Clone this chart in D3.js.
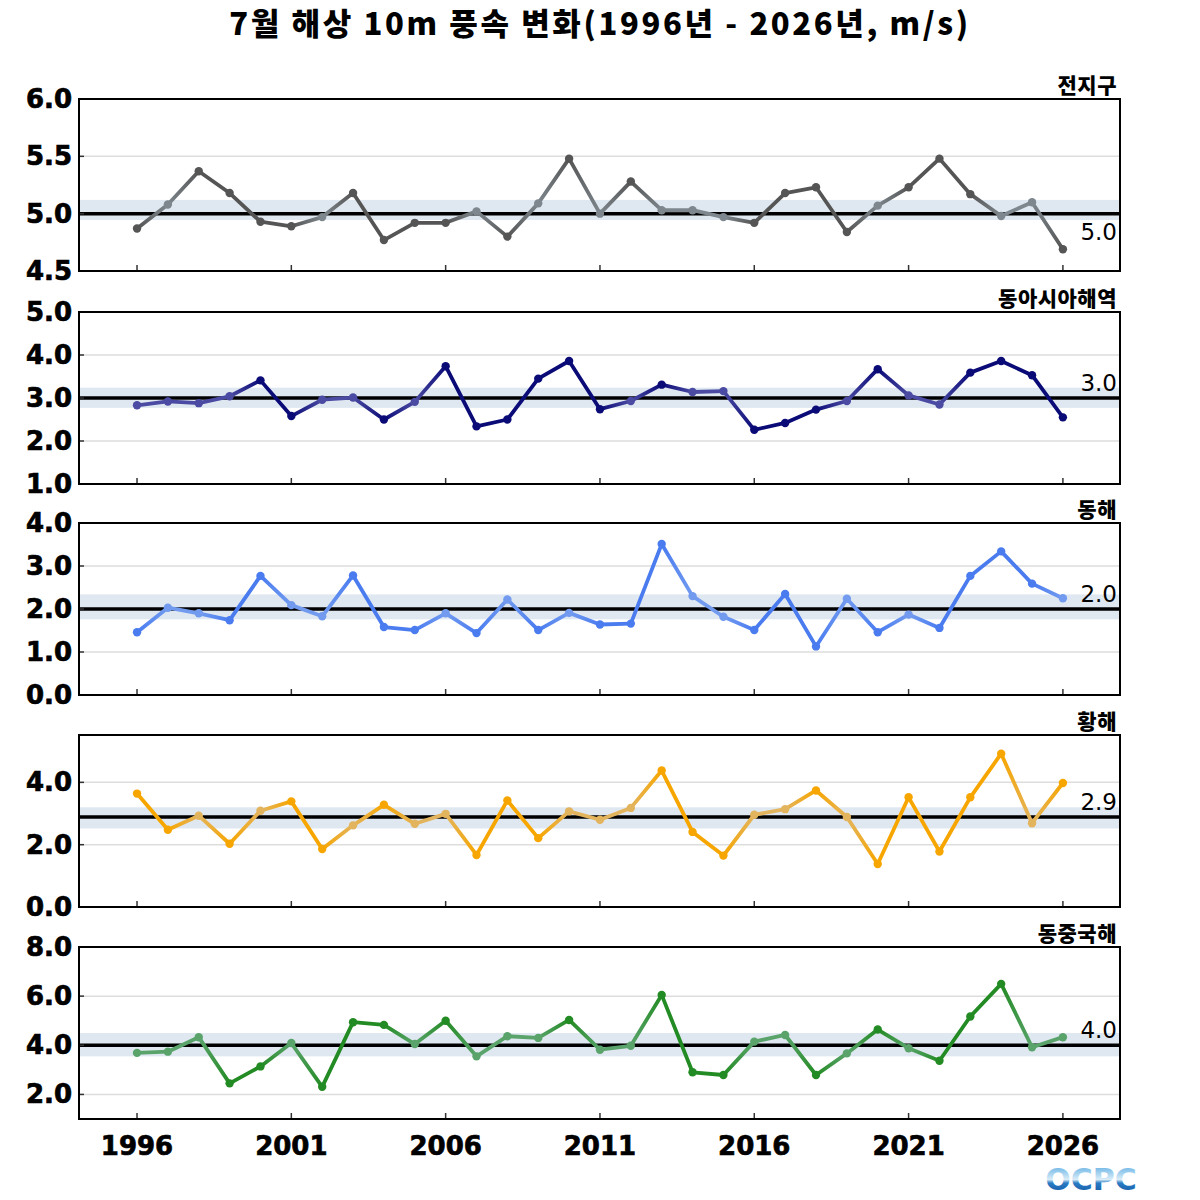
<!DOCTYPE html>
<html>
<head>
<meta charset="utf-8">
<script src="https://cdn.jsdelivr.net/npm/d3@7"></script>
<style>
  body { margin: 0; background: #fff; }
  svg { display: block; }
</style>
</head>
<body>
<div id="chart"></div>
<script>
// July sea 10m wind speed, five regions

var years = d3.range(1996, 2027);
var xTicks = [1996, 2001, 2006, 2011, 2016, 2021, 2026];

var regionNames = ["전지구", "동아시아해역", "동해", "황해", "동중국해"];

var globalVals = [4.87, 5.08, 5.37, 5.18, 4.93, 4.89, 4.97, 5.18, 4.77, 4.92, 4.92, 5.02, 4.80, 5.09, 5.48, 5.00,
                  5.28, 5.03, 5.03, 4.97, 4.92, 5.18, 5.23, 4.84, 5.07, 5.23, 5.48, 5.17, 4.98, 5.10, 4.69];
var eastAsiaVals = [2.83, 2.92, 2.88, 3.04, 3.41, 2.58, 2.96, 3.01, 2.50, 2.91, 3.74, 2.34, 2.50, 3.45, 3.86, 2.74,
                    2.93, 3.31, 3.14, 3.16, 2.26, 2.42, 2.73, 2.93, 3.67, 3.06, 2.85, 3.59, 3.86, 3.53, 2.55];
var eastSeaVals = [1.46, 2.03, 1.90, 1.74, 2.77, 2.09, 1.83, 2.78, 1.58, 1.51, 1.90, 1.44, 2.22, 1.51, 1.91, 1.64,
                   1.66, 3.51, 2.30, 1.82, 1.51, 2.35, 1.13, 2.24, 1.46, 1.87, 1.56, 2.77, 3.34, 2.59, 2.25];
var yellowSeaVals = [3.64, 2.48, 2.93, 2.03, 3.09, 3.39, 1.86, 2.62, 3.28, 2.67, 2.99, 1.67, 3.42, 2.21, 3.07, 2.80,
                     3.18, 4.38, 2.41, 1.65, 2.96, 3.14, 3.74, 2.89, 1.38, 3.52, 1.78, 3.52, 4.92, 2.69, 3.98];
var eastChinaVals = [3.69, 3.74, 4.33, 2.45, 3.14, 4.09, 2.31, 4.94, 4.83, 4.05, 5.00, 3.55, 4.37, 4.30, 5.03, 3.82,
                     3.98, 6.05, 2.90, 2.79, 4.15, 4.42, 2.79, 3.67, 4.64, 3.88, 3.37, 5.17, 6.50, 3.92, 4.33];

var normals = [5.0, 3.0, 2.0, 2.89, 4.0];
var normalLabels = ["5.0", "3.0", "2.0", "2.9", "4.0"];
var bandLow = [4.945, 2.77, 1.76, 2.52, 3.55];
var bandHigh = [5.12, 3.24, 2.34, 3.20, 4.50];

var yDomains = [[4.5, 6.0], [1.0, 5.0], [0.0, 4.0], [0.0, 5.52], [1.0, 8.0]];
var yTicks = [[4.5, 5.0, 5.5, 6.0], [1, 2, 3, 4, 5], [0, 1, 2, 3, 4], [0, 2, 4], [2, 4, 6, 8]];

var darkColors = ["#555555", "#0b0b78", "#4a7cf0", "#f7a600", "#238b23"];
var lightColors = ["#7e878d", "#4b4ba3", "#729bef", "#e3b45e", "#5aa46c"];

var series = [globalVals, eastAsiaVals, eastSeaVals, yellowSeaVals, eastChinaVals];

var W = 1200, H = 1200;
var left = 79, right = 1120;
var panelTops = [99, 312, 523, 735, 947];
var panelH = 172;

var svg = d3.select("#chart").append("svg")
    .attr("width", W)
    .attr("height", H);
var defs = svg.append("defs");

// title
svg.append("text")
    .attr("x", 600)
    .attr("y", 35)
    .attr("text-anchor", "middle")
    .style("font-family", "'Noto Sans CJK KR', 'DejaVu Sans', sans-serif")
    .style("font-weight", "900")
    .style("font-size", "31px")
    .style("letter-spacing", "2.6px")
    .text("7월 해상 10m 풍속 변화(1996년 - 2026년, m/s)");

var x = d3.scaleLinear()
    .domain([1994.12, 2027.85])
    .range([left, right]);

function drawPanel(p)
    {
    var pTop = panelTops[p];
    var y = d3.scaleLinear()
        .domain(yDomains[p])
        .range([pTop + panelH, pTop]);
    var g = svg.append("g");
    var vals = series[p];

    // grid lines
    g.selectAll(".grid")
        .data(yTicks[p].filter(function (t) { return t > yDomains[p][0] && t < yDomains[p][1]; }))
      .enter().append("line")
        .attr("x1", left).attr("x2", right)
        .attr("y1", function (d) { return y(d); })
        .attr("y2", function (d) { return y(d); })
        .style("stroke", "#dddddd")
        .style("stroke-width", 1.5);

    // normal band
    g.append("rect")
        .attr("x", left)
        .attr("width", right - left)
        .attr("y", y(bandHigh[p]))
        .attr("height", y(bandLow[p]) - y(bandHigh[p]))
        .style("fill", "#dfe8f1");

    // normal line
    g.append("line")
        .attr("x1", left).attr("x2", right)
        .attr("y1", y(normals[p])).attr("y2", y(normals[p]))
        .style("stroke", "#000")
        .style("stroke-width", 3.5);

    // colour of each point: lighter when inside the band
    var cols = vals.map(function (v) {
        return (v >= bandLow[p] && v <= bandHigh[p]) ? lightColors[p] : darkColors[p];
    });

    // line segments, gradient between point colours
    for (var i = 0; i < vals.length - 1; i++)
        {
        var x1 = x(years[i]), y1 = y(vals[i]), x2 = x(years[i + 1]), y2 = y(vals[i + 1]);
        var stroke = cols[i];
        if (cols[i] !== cols[i + 1])
            {
            var id = "grad" + p + "_" + i;
            var lg = defs.append("linearGradient")
                .attr("id", id)
                .attr("gradientUnits", "userSpaceOnUse")
                .attr("x1", x1).attr("y1", y1)
                .attr("x2", x2).attr("y2", y2);
            lg.append("stop").attr("offset", "0%").attr("stop-color", cols[i]);
            lg.append("stop").attr("offset", "100%").attr("stop-color", cols[i + 1]);
            stroke = "url(#" + id + ")";
            }
        g.append("line")
            .attr("x1", x1).attr("y1", y1)
            .attr("x2", x2).attr("y2", y2)
            .style("stroke", stroke)
            .style("stroke-width", 3.8)
            .style("stroke-linecap", "round");
        }

    g.selectAll(".pt")
        .data(vals)
      .enter().append("circle")
        .attr("cx", function (d, i) { return x(years[i]); })
        .attr("cy", function (d) { return y(d); })
        .attr("r", 4.2)
        .style("fill", function (d, i) { return cols[i]; });

    // ticks inside the frame
    g.selectAll(".xt")
        .data(xTicks)
      .enter().append("line")
        .attr("x1", function (d) { return x(d); })
        .attr("x2", function (d) { return x(d); })
        .attr("y1", pTop + panelH)
        .attr("y2", pTop + panelH - 6)
        .style("stroke", "#333")
        .style("stroke-width", 1.5);
    g.selectAll(".yt")
        .data(yTicks[p])
      .enter().append("line")
        .attr("x1", left)
        .attr("x2", left + 5)
        .attr("y1", function (d) { return y(d); })
        .attr("y2", function (d) { return y(d); })
        .style("stroke", "#333")
        .style("stroke-width", 1.5);

    // y tick labels
    g.selectAll(".yl")
        .data(yTicks[p])
      .enter().append("text")
        .attr("x", left - 7)
        .attr("y", function (d) { return y(d) + 9; })
        .attr("text-anchor", "end")
        .style("font-family", "'DejaVu Sans', sans-serif")
        .style("font-weight", "bold")
        .style("font-size", "26px")
        .style("stroke", "#000")
        .style("stroke-width", 0.7)
        .text(function (d) { return d.toFixed(1); });

    // frame
    g.append("rect")
        .attr("x", left).attr("y", pTop)
        .attr("width", right - left).attr("height", panelH)
        .style("fill", "none")
        .style("stroke", "#000")
        .style("stroke-width", 2);

    // region name
    g.append("text")
        .attr("x", right - 3)
        .attr("y", pTop - 6)
        .attr("text-anchor", "end")
        .style("font-family", "'Noto Sans CJK KR', sans-serif")
        .style("font-weight", "900")
        .style("font-size", "21px")
        .style("letter-spacing", "0.5px")
        .text(regionNames[p]);

    // normal value
    g.append("text")
        .attr("x", right - 3)
        .attr("y", p === 0 ? y(normals[p]) + 26 : y(normals[p]) - 7)
        .attr("text-anchor", "end")
        .style("font-family", "'DejaVu Sans', sans-serif")
        .style("font-size", "23px")
        .text(normalLabels[p]);

    if (p === series.length - 1)
        {
        g.selectAll(".xl")
            .data(xTicks)
          .enter().append("text")
            .attr("x", function (d) { return x(d); })
            .attr("y", pTop + panelH + 36)
            .attr("text-anchor", "middle")
            .style("font-family", "'DejaVu Sans', sans-serif")
            .style("font-weight", "bold")
            .style("font-size", "26px")
            .style("stroke", "#000")
            .style("stroke-width", 0.7)
            .text(function (d) { return d; });
        }
    }

for (var p = 0; p < series.length; p++)
    {
    drawPanel(p);
    }

// OCPC mark
var logoGrad = defs.append("linearGradient")
    .attr("id", "logoGrad")
    .attr("x1", 0).attr("y1", 0).attr("x2", 0).attr("y2", 1);
logoGrad.append("stop").attr("offset", "0%").attr("stop-color", "#4aa3df");
logoGrad.append("stop").attr("offset", "50%").attr("stop-color", "#d8ecf8");
logoGrad.append("stop").attr("offset", "60%").attr("stop-color", "#2b7cc4");
logoGrad.append("stop").attr("offset", "100%").attr("stop-color", "#0d4f9c");
svg.append("text")
    .attr("x", 1091)
    .attr("y", 1190)
    .attr("text-anchor", "middle")
    .style("font-family", "'DejaVu Sans', sans-serif")
    .style("font-weight", "bold")
    .style("font-size", "30px")
    .style("fill", "url(#logoGrad)")
    .text("OCPC");
</script>
</body>
</html>
